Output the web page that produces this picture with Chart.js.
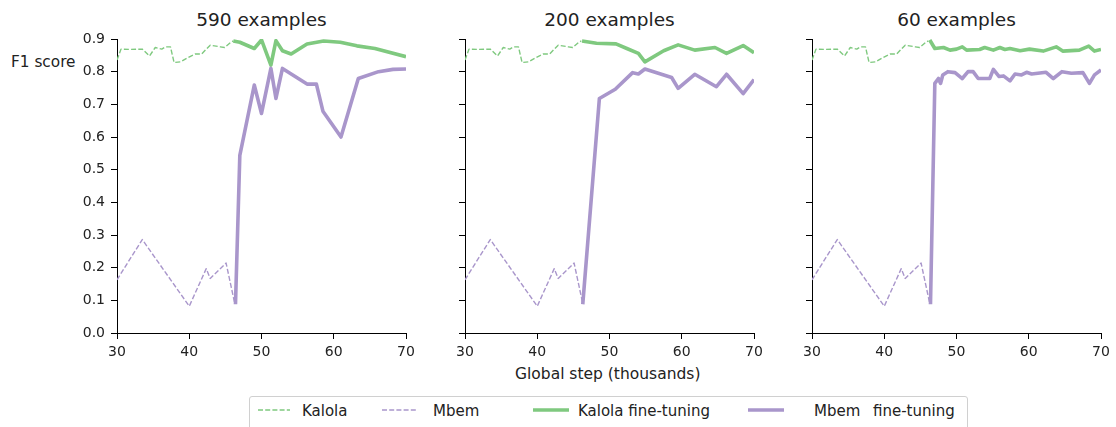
<!DOCTYPE html>
<html>
<head>
<meta charset="utf-8">
<script src="https://cdn.jsdelivr.net/npm/chart.js@4"></script>
<style>
  body { margin: 0; background: #fff; font-family: 'DejaVu Sans', sans-serif; color: #222; }
  #wrap { position: relative; width: 1116px; height: 427px; overflow: hidden; }
  .panel { position: absolute; top: 0; width: 363px; height: 360px; }
  .title { position: absolute; top: 7px; width: 289px; text-align: center; font-size: 18.5px; line-height: 26px; }
  .lbl { position: absolute; white-space: nowrap; }
  #legend { position: absolute; left: 249px; top: 396px; width: 719px; height: 34px; border: 1px solid #d0d0d0; border-radius: 3px; box-sizing: border-box; }
  #legend .lbl { font-size: 15px; line-height: 18px; top: 5px; }
  #legend svg { position: absolute; top: 10px; }
</style>
</head>
<body>
<div id="wrap">
  <div class="title" style="left:117px">590 examples</div>
  <div class="title" style="left:465px">200 examples</div>
  <div class="title" style="left:812px">60 examples</div>
  <div class="lbl" style="left:11px;top:53px;font-size:15.3px">F1 score</div>
  <div class="lbl" style="left:515px;top:365px;font-size:15.5px">Global step (thousands)</div>

  <div class="panel" style="left:57px"><canvas id="c590"></canvas></div>
  <div class="panel" style="left:405px"><canvas id="c200"></canvas></div>
  <div class="panel" style="left:752px"><canvas id="c60"></canvas></div>

  <div id="legend">
    <svg style="left:8px" width="32" height="6"><line x1="0" y1="3" x2="32" y2="3" stroke="#7fc97f" stroke-width="1.4" stroke-dasharray="5 2.2"/></svg>
    <div class="lbl" style="left:52px">Kalola</div>
    <svg style="left:132px" width="34" height="6"><line x1="0" y1="3" x2="34" y2="3" stroke="#a996cb" stroke-width="1.4" stroke-dasharray="5 2.2"/></svg>
    <div class="lbl" style="left:183px">Mbem</div>
    <svg style="left:283px" width="36" height="6"><line x1="0" y1="3" x2="36" y2="3" stroke="#7fc97f" stroke-width="3.6"/></svg>
    <div class="lbl" style="left:328px">Kalola fine-tuning</div>
    <svg style="left:498px" width="36" height="6"><line x1="0" y1="3" x2="36" y2="3" stroke="#a996cb" stroke-width="3.6"/></svg>
    <div class="lbl" style="left:564px">Mbem</div>
    <div class="lbl" style="left:623px">fine-tuning</div>
  </div>
</div>

<script>
// baselines (same in every panel), step in thousands
const kalolaBaseSteps = [30, 30.55, 31.8, 33.5, 34.5, 35.3, 36.2, 36.7, 37.4, 37.9, 38.8, 39.9, 40.8, 41.7, 42.9, 44.3, 44.9, 45.8, 46.1];
const kalolaBase = [0.836, 0.869, 0.868, 0.869, 0.848, 0.874, 0.869, 0.876, 0.876, 0.828, 0.83, 0.844, 0.854, 0.854, 0.881, 0.876, 0.874, 0.891, 0.894];
const mbemBaseSteps = [30, 33.5, 40.0, 42.35, 42.9, 45.1, 46.3];
const mbemBase = [0.163, 0.286, 0.082, 0.197, 0.167, 0.214, 0.09];

// 590 examples
const kalola590Steps = [46.1, 47.0, 49.0, 50.0, 51.3, 52.0, 52.9, 54.1, 56.3, 58.6, 60.9, 63.2, 65.7, 70];
const kalola590 = [0.894, 0.89, 0.871, 0.897, 0.82, 0.895, 0.864, 0.854, 0.885, 0.894, 0.89, 0.879, 0.871, 0.846];
const mbem590Steps = [46.4, 47.0, 49.0, 50.0, 51.3, 52.0, 52.9, 56.3, 57.6, 58.5, 61.0, 63.4, 66.2, 68.2, 70];
const mbem590 = [0.088, 0.544, 0.759, 0.672, 0.81, 0.718, 0.81, 0.762, 0.762, 0.679, 0.6, 0.779, 0.8, 0.807, 0.808];

// 200 examples
const kalola200Steps = [46.2, 48.2, 50.9, 52.4, 54.0, 54.9, 57.5, 59.5, 61.8, 64.6, 66.2, 68.5, 70];
const kalola200 = [0.894, 0.887, 0.885, 0.871, 0.856, 0.83, 0.864, 0.882, 0.866, 0.874, 0.856, 0.88, 0.858];
const mbem200Steps = [46.3, 48.6, 50.8, 53.2, 54.0, 54.9, 58.6, 59.5, 61.8, 64.8, 66.2, 68.5, 70];
const mbem200 = [0.088, 0.718, 0.746, 0.797, 0.793, 0.808, 0.782, 0.749, 0.792, 0.754, 0.792, 0.733, 0.776];

// 60 examples
const kalola60Steps = [46.3, 47.0, 48.2, 49.1, 50.0, 50.8, 51.4, 53.2, 53.9, 55.1, 56.0, 56.7, 57.4, 58.8, 60.1, 62.0, 63.8, 64.7, 67.0, 68.3, 69.1, 70];
const kalola60 = [0.897, 0.871, 0.874, 0.866, 0.869, 0.876, 0.866, 0.868, 0.874, 0.866, 0.874, 0.868, 0.871, 0.864, 0.869, 0.863, 0.876, 0.863, 0.866, 0.878, 0.863, 0.868];
const mbem60Steps = [46.4, 47.0, 47.5, 47.8, 48.1, 48.8, 49.8, 50.8, 51.6, 52.3, 53.0, 54.6, 55.1, 55.9, 56.5, 57.4, 58.1, 59.0, 59.7, 60.4, 62.4, 63.4, 64.6, 65.9, 67.5, 68.4, 69.1, 70];
const mbem60 = [0.088, 0.764, 0.779, 0.764, 0.79, 0.8, 0.797, 0.779, 0.8, 0.8, 0.779, 0.779, 0.807, 0.785, 0.787, 0.772, 0.793, 0.79, 0.798, 0.793, 0.798, 0.779, 0.8, 0.795, 0.797, 0.764, 0.79, 0.805];

const xTicks = [30, 40, 50, 60, 70];
const yTicks = [0, 0.1, 0.2, 0.3, 0.4, 0.5, 0.6, 0.7, 0.8, 0.9];

const GREEN = '#7fc97f';
const PURPLE = '#a996cb';

const pts = (xs, ys) => xs.map((x, i) => ({ x, y: ys[i] }));

function line(data, color, solid) {
  return {
    data,
    borderColor: color,
    borderWidth: solid ? 3.6 : 1.4,
    borderDash: solid ? [] : [5, 2.2],
    borderJoinStyle: 'round',
    pointRadius: 0,
    tension: 0,
    fill: false
  };
}

function panel(id, kSteps, kVals, mSteps, mVals, showY) {
  new Chart(document.getElementById(id), {
    type: 'line',
    data: {
      datasets: [
        line(pts(mSteps, mVals), PURPLE, true),
        line(pts(kSteps, kVals), GREEN, true),
        line(pts(mbemBaseSteps, mbemBase), PURPLE, false),
        line(pts(kalolaBaseSteps, kalolaBase), GREEN, false)
      ]
    },
    options: {
      responsive: true,
      maintainAspectRatio: false,
      animation: false,
      layout: { padding: { top: 39, right: 14, left: 0, bottom: 0 } },
      plugins: { legend: { display: false }, tooltip: { enabled: false } },
      scales: {
        x: {
          type: 'linear',
          min: 30, max: 70,
          afterBuildTicks: s => { s.ticks = xTicks.map(v => ({ value: v })); },
          afterFit: s => { s.height = 27; },
          grid: { drawOnChartArea: false, drawTicks: true, tickLength: 6, color: '#000' },
          border: { display: true, color: '#000', width: 1 },
          ticks: { color: '#222', padding: 5, font: { family: 'DejaVu Sans', size: 14 }, maxRotation: 0 }
        },
        y: {
          min: 0, max: 0.9,
          afterBuildTicks: s => { s.ticks = yTicks.map(v => ({ value: v })); },
          afterFit: s => { s.width = 60; },
          grid: { drawOnChartArea: false, drawTicks: true, tickLength: 6, color: '#000' },
          border: { display: true, color: '#000', width: 1 },
          ticks: {
            color: '#222', padding: 6, font: { family: 'DejaVu Sans', size: 14 },
            callback: v => showY ? v.toFixed(1) : ''
          }
        }
      }
    }
  });
}

panel('c590', kalola590Steps, kalola590, mbem590Steps, mbem590, true);
panel('c200', kalola200Steps, kalola200, mbem200Steps, mbem200, false);
panel('c60', kalola60Steps, kalola60, mbem60Steps, mbem60, false);
</script>
</body>
</html>
